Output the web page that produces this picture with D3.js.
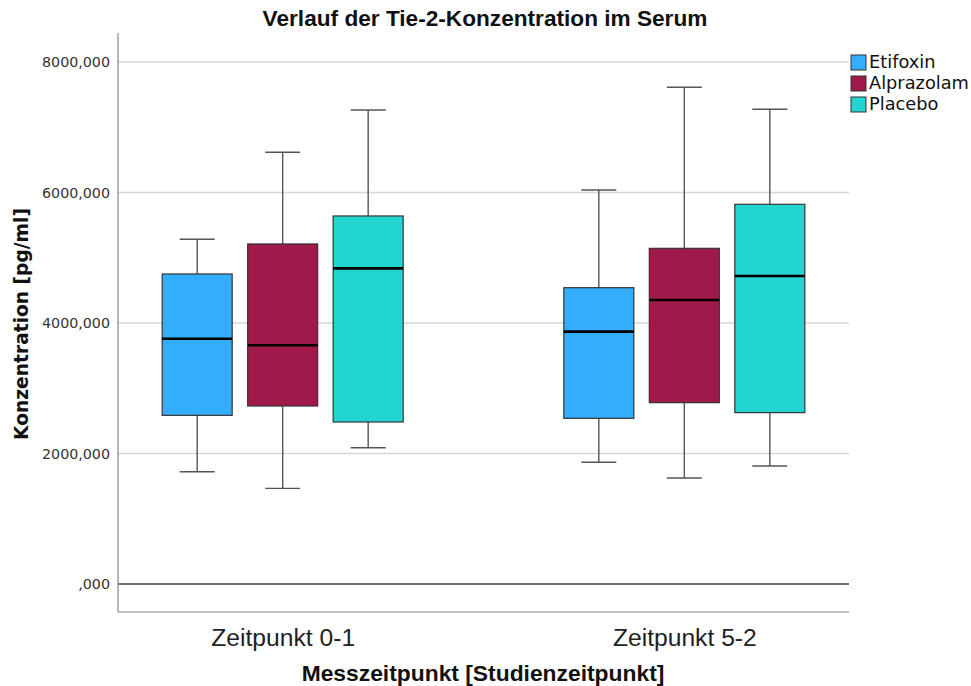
<!DOCTYPE html>
<html><head><meta charset="utf-8">
<script src="https://cdn.jsdelivr.net/npm/d3@7"></script>
<style>body{margin:0;background:#fff;}svg{display:block;}</style>
</head><body>
<svg id="c" width="971" height="686"></svg>
<script>
const categories = ["Zeitpunkt 0-1", "Zeitpunkt 5-2"];
const series = ["Etifoxin", "Alprazolam", "Placebo"];
const colors = ["#33adfe", "#a0194b", "#22d5d0"];
// [whiskerLow, Q1, median, Q3, whiskerHigh] per series per category
const etifoxin   = [[1721, 2585, 3759, 4751, 5283], [1865, 2539, 3867, 4541, 6038]];
const alprazolam = [[1466, 2728, 3658, 5211, 6616], [1624, 2779, 4352, 5144, 7612]];
const placebo    = [[2089, 2483, 4837, 5640, 7264], [1808, 2626, 4720, 5819, 7275]];
const yTicks = [0, 2000, 4000, 6000, 8000];
const tickLabels = [",000", "2000,000", "4000,000", "6000,000", "8000,000"];
const title = "Verlauf der Tie-2-Konzentration im Serum";
const xTitle = "Messzeitpunkt [Studienzeitpunkt]";
const yTitle = "Konzentration [pg/ml]";

const dataBySeries = [etifoxin, alprazolam, placebo];
const svg = d3.select("#c");
const L = 118, R = 849, T = 33, B = 612;

const y = d3.scaleLinear().domain([-429, 8444]).range([B, T]);
const x0 = d3.scalePoint().domain(categories).range([L, R]).padding(0.41);
const x1 = d3.scaleBand().domain(series).range([-120.5, 120.5]).paddingInner(0.1813).paddingOuter(0);
const color = d3.scaleOrdinal().domain(series).range(colors);

function fit(sel, w) {
  const n = sel.node();
  const fs = parseFloat(sel.attr("font-size"));
  const cur = n.getComputedTextLength();
  sel.attr("font-size", (fs * w / cur).toFixed(2));
}
// horizontally compress text placed at (x,y) so it spans width w (condensed look)
function squeeze(sel, x, yy, w) {
  const cur = sel.node().getComputedTextLength();
  sel.attr("x", 0).attr("y", 0).attr("transform", `translate(${x},${yy}) scale(${(w / cur).toFixed(4)},1)`);
}
const condFont = "Liberation Sans, Arial, sans-serif";

// gridlines
svg.append("g").selectAll("line").data(yTicks.filter(d => d > 0)).join("line")
  .attr("x1", L).attr("x2", R).attr("y1", d => y(d)).attr("y2", d => y(d))
  .attr("stroke", "#d6d6d6").attr("stroke-width", 1.5);
// zero line
svg.append("line").attr("x1", L).attr("x2", R).attr("y1", y(0)).attr("y2", y(0))
  .attr("stroke", "#6e6e6e").attr("stroke-width", 2);

// axes
const yAxis = d3.axisLeft(y).tickValues(yTicks).tickSize(0).tickPadding(8)
  .tickFormat((d, i) => tickLabels[i]);
const gy = svg.append("g").attr("transform", `translate(${L},0)`).call(yAxis);
gy.select(".domain").remove();
gy.selectAll("text").attr("font-family", "DejaVu Sans").attr("font-size", 12.5).attr("fill", "#333");
fit(gy.selectAll("text").filter((d) => d === 8000), 68);
gy.selectAll("text").attr("font-size", gy.selectAll("text").filter((d) => d === 8000).attr("font-size"));
svg.append("line").attr("x1", L).attr("x2", L).attr("y1", T).attr("y2", B).attr("stroke", "#888").attr("stroke-width", 1.2);
svg.append("line").attr("x1", L).attr("x2", R).attr("y1", B).attr("y2", B).attr("stroke", "#888").attr("stroke-width", 1.2);

const xAxis = d3.axisBottom(x0).tickSize(0).tickPadding(0);
const gx = svg.append("g").attr("transform", `translate(0,${B})`).call(xAxis);
gx.select(".domain").remove();
gx.selectAll("text").attr("font-family", condFont)
  .attr("font-size", 23).attr("fill", "#222").attr("dy", null)
  .each(function(d){ squeeze(d3.select(this), 0, 34, 144); });

// boxes
const groups = svg.append("g").selectAll("g").data(categories).join("g")
  .attr("transform", d => `translate(${x0(d)},0)`);
const bw = x1.bandwidth();
groups.each(function(cat, ci) {
  const g = d3.select(this);
  series.forEach((s, si) => {
    const [lo, q1, med, q3, hi] = dataBySeries[si][ci];
    const cx = x1(s) + bw / 2;
    const wc = "#555";
    g.append("line").attr("x1", cx).attr("x2", cx).attr("y1", y(hi)).attr("y2", y(q3)).attr("stroke", wc).attr("stroke-width", 1.4);
    g.append("line").attr("x1", cx).attr("x2", cx).attr("y1", y(q1)).attr("y2", y(lo)).attr("stroke", wc).attr("stroke-width", 1.4);
    g.append("line").attr("x1", cx - bw / 4).attr("x2", cx + bw / 4).attr("y1", y(hi)).attr("y2", y(hi)).attr("stroke", wc).attr("stroke-width", 1.4);
    g.append("line").attr("x1", cx - bw / 4).attr("x2", cx + bw / 4).attr("y1", y(lo)).attr("y2", y(lo)).attr("stroke", wc).attr("stroke-width", 1.4);
    g.append("rect").attr("x", x1(s)).attr("width", bw).attr("y", y(q3)).attr("height", y(q1) - y(q3))
      .attr("fill", color(s)).attr("stroke", "#333").attr("stroke-width", 1.2);
    g.append("line").attr("x1", x1(s)).attr("x2", x1(s) + bw).attr("y1", y(med)).attr("y2", y(med))
      .attr("stroke", "#000").attr("stroke-width", 2.6);
  });
});

// titles
const t = svg.append("text").attr("text-anchor", "middle")
  .attr("font-family", condFont).attr("font-weight", "bold")
  .attr("font-size", 22).attr("fill", "#111").text(title);
squeeze(t, 485, 26, 445);
const xt = svg.append("text").attr("text-anchor", "middle")
  .attr("font-family", condFont).attr("font-weight", "bold")
  .attr("font-size", 22.5).attr("fill", "#111").text(xTitle);
squeeze(xt, 483, 681, 363);
const yt = svg.append("text").attr("transform", "translate(28,324) rotate(-90)").attr("text-anchor", "middle")
  .attr("font-family", "DejaVu Sans").attr("font-weight", "bold")
  .attr("font-size", 16).attr("fill", "#111").text(yTitle);
fit(yt, 232);

// legend
const lg = svg.append("g").attr("transform", "translate(851,55)");
const li = lg.selectAll("g").data(series).join("g").attr("transform", (d, i) => `translate(0,${i * 21})`);
li.append("rect").attr("width", 15).attr("height", 15).attr("fill", d => color(d)).attr("stroke", "#333").attr("stroke-width", 1);
li.append("text").attr("x", 18).attr("y", 13).attr("font-family", "DejaVu Sans").attr("font-size", 15)
  .attr("fill", "#111").text(d => d);
fit(li.filter((d, i) => i === 1).select("text"), 100);
const lfs = li.filter((d, i) => i === 1).select("text").attr("font-size");
li.selectAll("text").attr("font-size", lfs);
</script>
</body></html>
